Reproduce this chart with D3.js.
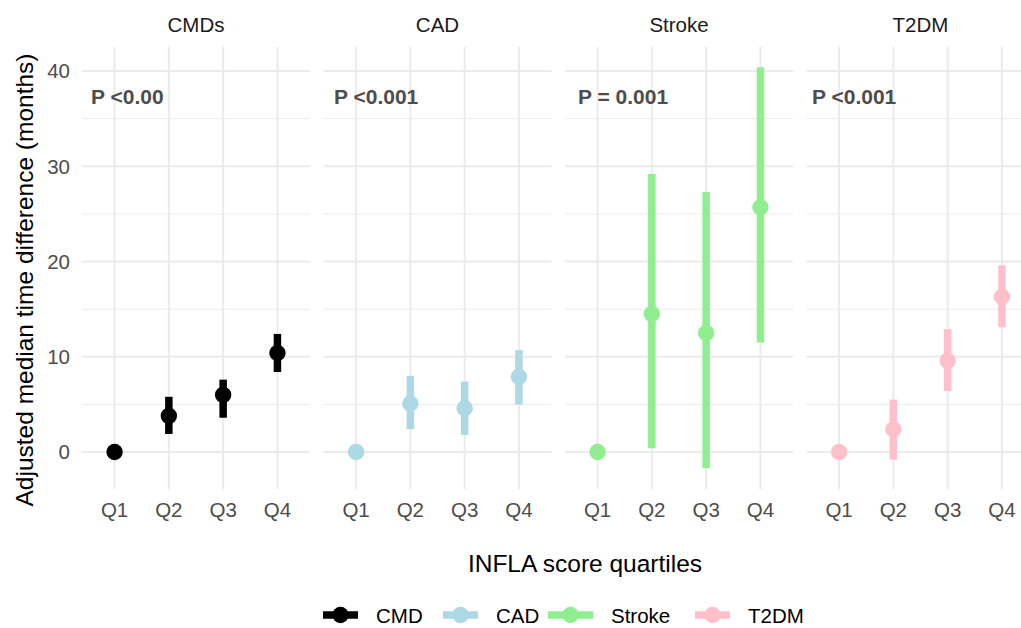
<!DOCTYPE html>
<html>
<head>
<meta charset="utf-8">
<script src="https://cdn.jsdelivr.net/npm/d3@7"></script>
<style>
  body { margin: 0; background: #fff; }
  text { font-family: "Liberation Sans", Arial, sans-serif; }
</style>
</head>
<body>
<svg id="chart" width="1021" height="628"></svg>
<script>
// data
const panels = ["CMDs", "CAD", "Stroke", "T2DM"];
const legendNames = ["CMD", "CAD", "Stroke", "T2DM"];
const colors = ["#000000", "#add8e6", "#90ee90", "#ffc0cb"];
const quartiles = ["Q1", "Q2", "Q3", "Q4"];
const pLabels = ["P <0.00", "P <0.001", "P = 0.001", "P <0.001"];

const estimate = [
  [0, 3.8, 6.0, 10.4],
  [0, 5.1, 4.6, 7.9],
  [0, 14.5, 12.5, 25.7],
  [0, 2.4, 9.6, 16.3]
];
const lower = [
  [0, 1.9, 3.6, 8.4],
  [0, 2.4, 1.8, 5.0],
  [0, 0.4, -1.7, 11.5],
  [0, -0.8, 6.4, 13.1]
];
const upper = [
  [0, 5.8, 7.6, 12.4],
  [0, 8.0, 7.4, 10.7],
  [0, 29.2, 27.3, 40.4],
  [0, 5.5, 12.9, 19.6]
];
const yTicks = [0, 10, 20, 30, 40];
const yMinor = [5, 15, 25, 35];

// layout
const svg = d3.select("#chart");
const panelLeft = 82, panelW = 228, panelGap = 13.5;
const plotTop = 47, plotBottom = 489;
const grid = "#ebebeb";
const tickColor = "#4d4d4d";

const y = d3.scaleLinear().domain([-3.88, 42.52]).range([plotBottom, plotTop]);

// P label horizontal offsets from panel left
const pDx = [9, 10.5, 13, 5.5];

panels.forEach((name, i) => {
  const x0 = panelLeft + i * (panelW + panelGap);
  const x = d3.scalePoint().domain(quartiles).range([x0, x0 + panelW]).padding(0.6);
  const g = svg.append("g");

  // minor grid
  g.selectAll(".minor").data(yMinor).join("line")
    .attr("x1", x0).attr("x2", x0 + panelW)
    .attr("y1", d => y(d)).attr("y2", d => y(d))
    .attr("stroke", grid).attr("stroke-width", 1);

  // major grid
  g.selectAll(".major").data(yTicks).join("line")
    .attr("x1", x0).attr("x2", x0 + panelW)
    .attr("y1", d => y(d)).attr("y2", d => y(d))
    .attr("stroke", grid).attr("stroke-width", 2);

  g.selectAll(".vgrid").data(quartiles).join("line")
    .attr("x1", d => x(d)).attr("x2", d => x(d))
    .attr("y1", plotTop).attr("y2", plotBottom)
    .attr("stroke", grid).attr("stroke-width", 2);

  // strip title
  g.append("text")
    .attr("x", x0 + panelW / 2).attr("y", 32)
    .attr("text-anchor", "middle")
    .attr("font-size", 20.5).attr("fill", "#1a1a1a")
    .text(name);

  // x tick labels
  g.selectAll(".xt").data(quartiles).join("text")
    .attr("x", d => x(d)).attr("y", 517)
    .attr("text-anchor", "middle")
    .attr("font-size", 20.5).attr("fill", tickColor)
    .text(d => d);

  // p value label
  g.append("text")
    .attr("x", x0 + pDx[i]).attr("y", y(37.3))
    .attr("dy", "0.36em")
    .attr("font-size", 21).attr("font-weight", "bold").attr("fill", tickColor)
    .text(pLabels[i]);

  // pointranges
  const rows = quartiles.map((q, j) => ({ q, est: estimate[i][j], lo: lower[i][j], hi: upper[i][j] }));
  g.selectAll(".err").data(rows.filter(d => d.hi !== d.lo)).join("line")
    .attr("x1", d => x(d.q)).attr("x2", d => x(d.q))
    .attr("y1", d => y(d.lo)).attr("y2", d => y(d.hi))
    .attr("stroke", colors[i]).attr("stroke-width", 7.5);

  g.selectAll(".pt").data(rows).join("circle")
    .attr("cx", d => x(d.q)).attr("cy", d => y(d.est))
    .attr("r", 8.2)
    .attr("fill", colors[i]);
});

// y axis labels
svg.selectAll(".yt").data(yTicks).join("text")
  .attr("x", 70).attr("y", d => y(d))
  .attr("dy", "0.36em")
  .attr("text-anchor", "end")
  .attr("font-size", 20.5).attr("fill", tickColor)
  .text(d => d);

// axis titles
svg.append("text")
  .attr("transform", "translate(33,280) rotate(-90)")
  .attr("text-anchor", "middle")
  .attr("font-size", 24.5).attr("fill", "#000")
  .text("Adjusted median time difference (months)");

svg.append("text")
  .attr("x", 585).attr("y", 572)
  .attr("text-anchor", "middle")
  .attr("font-size", 24.5).attr("fill", "#000")
  .text("INFLA score quartiles");

// legend
const legendX = [323, 443, 548, 695];
const legendKeyW = [35, 35, 45, 35];
const lg = svg.append("g");
legendNames.forEach((n, i) => {
  const kx = legendX[i], kw = legendKeyW[i], ky = 615;
  lg.append("line")
    .attr("x1", kx).attr("x2", kx + kw)
    .attr("y1", ky).attr("y2", ky)
    .attr("stroke", colors[i]).attr("stroke-width", 7.5);
  lg.append("circle")
    .attr("cx", kx + kw / 2).attr("cy", ky).attr("r", 8.2)
    .attr("fill", colors[i]);
  lg.append("text")
    .attr("x", kx + kw + 18).attr("y", 623)
    .attr("font-size", 20.5).attr("fill", "#000")
    .text(n);
});
</script>
</body>
</html>
